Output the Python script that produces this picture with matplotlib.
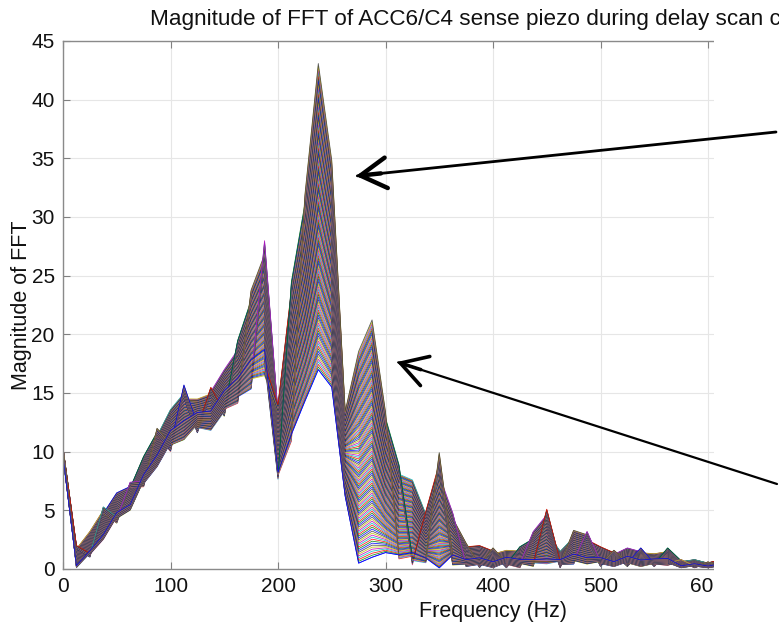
import numpy as np
import matplotlib
matplotlib.use('Agg')
import matplotlib.pyplot as plt
from matplotlib.patches import Rectangle, FancyArrowPatch

# ---------------- data ----------------
freq = np.arange(50) * 12.5  # FFT bins, 12.5 Hz spacing

# upper and lower envelope of the family of FFT traces (one trace per delay step)
upper = [10.4, 2.0, 3.2, 5.3, 6.5, 7.4, 9.6, 12.0, 13.6, 15.7,
         14.5, 15.5, 17.0, 19.5, 23.8, 28.0, 14.0, 24.5, 32.0, 43.3,
         35.0, 13.5, 18.7, 21.4, 13.5, 8.9, 7.6, 4.9, 10.0, 4.8,
         2.2, 2.0, 1.8, 1.6, 1.9, 3.2, 5.1, 1.5, 3.3, 3.2,
         1.9, 1.6, 1.8, 1.8, 1.3, 1.8, 0.8, 0.8, 0.6, 0.8]
lower = [9.6, 0.1, 1.0, 2.5, 3.9, 5.0, 7.0, 8.7, 10.0, 11.0,
         11.6, 11.8, 13.0, 14.1, 15.3, 16.4, 7.6, 10.8, 14.3, 17.0,
         15.5, 6.2, 0.5, 1.0, 1.4, 0.8, 0.3, 0.5, 0.1, 0.3,
         0.2, 0.1, 0.1, 0.1, 0.1, 0.2, 0.4, 0.1, 0.4, 0.4,
         0.2, 0.2, 0.2, 0.2, 0.2, 0.3, 0.1, 0.1, 0.1, 0.2]
# position (phase) of the first delay step inside the band, per bin
phase = [0.0, 0.1, 0.25, 0.15, 0.35, 0.2, 0.4, 0.3, 0.5, 0.35,
         0.6, 0.45, 0.55, 0.4, 0.3, 0.2, 0.1, 0.05, 0.0, 0.0,
         0.0, 0.0, 0.0, 0.0, 0.0, 0.05, 0.15, 0.1, 0.0, 0.2,
         0.3, 0.45, 0.3, 0.6, 0.4, 0.2, 0.1, 0.5, 0.3, 0.2,
         0.45, 0.3, 0.55, 0.35, 0.6, 0.4, 0.25, 0.5, 0.3, 0.45]
n_traces = 120

x_ticks = [0, 100, 200, 300, 400, 500, 600]
y_ticks = [0, 5, 10, 15, 20, 25, 30, 35, 40, 45]
title = "Magnitude of FFT of ACC6/C4 sense piezo during delay scan c"
xlabel = "Frequency (Hz)"
ylabel = "Magnitude of FFT"

# ---------------- figure ----------------
plt.rcParams['font.family'] = ['Liberation Sans', 'DejaVu Sans']
W, H = 779, 626
fig = plt.figure(figsize=(W / 100, H / 100), dpi=100)


def fx(px):
    return px / W


def fy(py):
    return 1 - py / H


ax = fig.add_axes([fx(63), fy(569), fx(923) - fx(63), fy(41) - fy(569)])

colors = [(0, 0, 1), (0, 0.5, 0), (1, 0, 0), (0, 0.75, 0.75),
          (0.75, 0, 0.75), (0.75, 0.75, 0), (0.25, 0.25, 0.25)]
up = np.array(upper)
lo = np.array(lower)
ph = np.array(phase)
for k in range(n_traces):
    t = k / (n_traces - 1)
    w = (t + ph) % 1.0
    ax.plot(freq, lo + (up - lo) * w, color=colors[k % 7], lw=0.6, alpha=0.85)

ax.set_xlim(0, 800)
ax.set_ylim(0, 45)
ax.set_xticks(x_ticks)
ax.set_yticks(y_ticks)
ax.grid(True, color='#e6e6e6', lw=0.8)
ax.set_axisbelow(True)
ax.tick_params(direction='in', length=5, width=0.8, color='#808080',
               labelsize=15, labelcolor='#111111', top=True, right=True, pad=6)
for s in ax.spines.values():
    s.set_color('#8a8a8a')
    s.set_linewidth(1.0)

ax.set_xlabel(xlabel, fontsize=15.5, color='#111111')
ax.xaxis.set_label_coords(0.5, -0.060)
ax.set_ylabel(ylabel, fontsize=15.5, color='#111111')
ax.yaxis.set_label_coords(-0.036, 0.5)

# area to the right of the visible plot is blank in the reference
fig.add_artist(Rectangle((fx(714), 0), 1 - fx(714), fy(33), transform=fig.transFigure,
                         facecolor='white', edgecolor='none', zorder=2))

fig.text(fx(150), fy(19), title, ha='left', va='center', fontsize=16.2,
         color='#111111', zorder=3)


def arrow(tail, tip, lw_shaft, lw_head):
    a = FancyArrowPatch(posA=(fx(tail[0]), fy(tail[1])), posB=(fx(tip[0]), fy(tip[1])),
                        transform=fig.transFigure, arrowstyle='-', lw=lw_shaft,
                        color='black', zorder=5, shrinkA=0, shrinkB=1)
    fig.add_artist(a)
    d = np.array(tail, float) - np.array(tip, float)
    d /= np.hypot(*d)
    base = np.array(tip) + d * 25
    h = FancyArrowPatch(posA=(fx(base[0]), fy(base[1])), posB=(fx(tip[0]), fy(tip[1])),
                        transform=fig.transFigure,
                        arrowstyle='->,head_length=0.85,head_width=0.5',
                        mutation_scale=22, lw=lw_head, color='black',
                        zorder=6, shrinkA=0, shrinkB=0, capstyle='round',
                        joinstyle='miter')
    fig.add_artist(h)


arrow((776, 132), (356, 176), 2.0, 3.2)
arrow((777, 484), (397, 362), 1.6, 2.6)

fig.savefig('out.png', dpi=100)
